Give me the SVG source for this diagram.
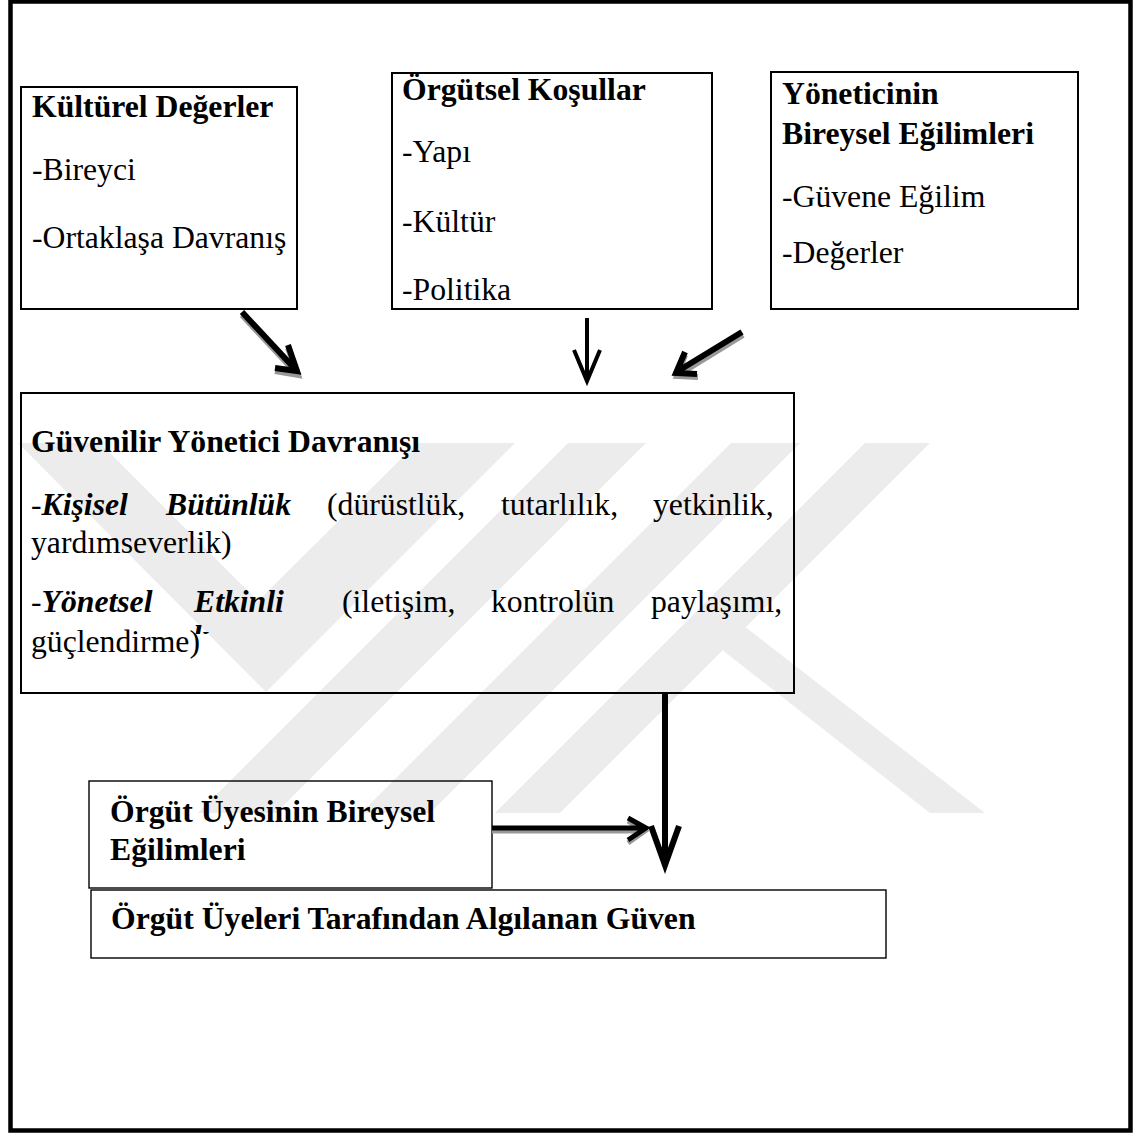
<svg xmlns="http://www.w3.org/2000/svg" width="1136" height="1135" viewBox="0 0 1136 1135">
<style>
.box{fill:none;stroke:#000;stroke-width:2}
.thin{fill:none;stroke:#000;stroke-width:1.4}
.frame{fill:none;stroke:#000;stroke-width:4.5}
text{font-family:"Liberation Serif","Times New Roman",serif;font-size:31.7px;fill:#000}
.b{font-weight:bold}
.bi{font-weight:bold;font-style:italic}
.arr{fill:none;stroke:#000;stroke-linejoin:miter;stroke-linecap:butt}
.sh{fill:none;stroke:#999;stroke-linejoin:miter;stroke-linecap:butt}
.wm{fill:#ececec}
</style>
<defs>
<clipPath id="kclip"><rect x="190" y="618" width="25" height="16"/></clipPath>
</defs>
<rect width="1136" height="1135" fill="#fff"/>
<g id="watermark">
<polygon class="wm" points="18,443 100,443 258,601 417,443 515,443 266,692"/>
<polygon class="wm" points="568,443 646,443 276,813 198,813"/>
<polygon class="wm" points="731,443 800,443 430,813 361,813"/>
<polygon class="wm" points="865,443 930,443 560,813 495,813"/>
<polygon class="wm" points="688,623 740,623 985,813 930,813"/>
</g>
<rect class="frame" x="10.5" y="1.5" width="1120" height="1129"/>
<g id="kulturel">
<rect class="box" x="21" y="87" width="276" height="222"/>
<text class="b" x="32" y="117">Kültürel Değerler</text>
<text x="32" y="180">-Bireyci</text>
<text x="32" y="248">-Ortaklaşa Davranış</text>
</g>
<g id="orgutsel">
<rect class="box" x="392" y="73" width="320" height="236"/>
<text class="b" x="402" y="100">Örgütsel Koşullar</text>
<text x="402" y="162">-Yapı</text>
<text x="402" y="232">-Kültür</text>
<text x="402" y="300">-Politika</text>
</g>
<g id="yonetici">
<rect class="box" x="771" y="72" width="307" height="237"/>
<text class="b" x="782" y="104">Yöneticinin</text>
<text class="b" x="782" y="144">Bireysel Eğilimleri</text>
<text x="782" y="207">-Güvene Eğilim</text>
<text x="782" y="263">-Değerler</text>
</g>
<g id="davranis">
<rect class="box" x="21" y="393" width="773" height="300"/>
<text class="b" x="31" y="452">Güvenilir Yönetici Davranışı</text>
<text x="31" y="515">-<tspan class="bi">Kişisel</tspan></text>
<text class="bi" x="166" y="515">Bütünlük</text>
<text x="327" y="515">(dürüstlük,</text>
<text x="501" y="515">tutarlılık,</text>
<text x="653" y="515">yetkinlik,</text>
<text x="31" y="553">yardımseverlik)</text>
<text x="31" y="612">-<tspan class="bi">Yönetsel</tspan></text>
<text class="bi" x="194" y="612">Etkinli</text>
<text x="342" y="612">(iletişim,</text>
<text x="491" y="612">kontrolün</text>
<text x="651" y="612">paylaşımı,</text>
<text x="31" y="652">güçlendirme)</text>
<text class="bi" x="193" y="647" clip-path="url(#kclip)">k</text>
</g>
<g id="uye">
<rect class="thin" x="89" y="781" width="403" height="107"/>
<text class="b" x="110" y="822">Örgüt Üyesinin Bireysel</text>
<text class="b" x="110" y="860">Eğilimleri</text>
</g>
<g id="guven">
<rect class="thin" x="91" y="890" width="795" height="68"/>
<text class="b" x="111" y="929">Örgüt Üyeleri Tarafından Algılanan Güven</text>
</g>
<g id="connectors">
<path class="sh" stroke-width="6" d="M242,315 L298,375 M288,348 L298,375 L275,371"/>
<path class="arr" stroke-width="6" d="M242,312 L296,370 M288,345 L297,371 L275,368"/>
<path class="arr" stroke-width="4" d="M587,318 L587,380 M574,350 L587,381 L600,350"/>
<path class="sh" stroke-width="6" d="M743,335 L678,375 M685,355 L677,376 L698,377"/>
<path class="arr" stroke-width="6" d="M742,332 L678,371 M685,352 L676,373 L697,374"/>
<path class="arr" stroke-width="6" d="M665,693 L665,862 M651,826 L665,865 L679,826"/>
<path class="sh" stroke-width="5" d="M492,831 L644,831 M628,821 L645,831 L628,843"/>
<path class="arr" stroke-width="5" d="M492,828 L644,828 M628,818 L646,828 L628,840"/>
</g>
</svg>
